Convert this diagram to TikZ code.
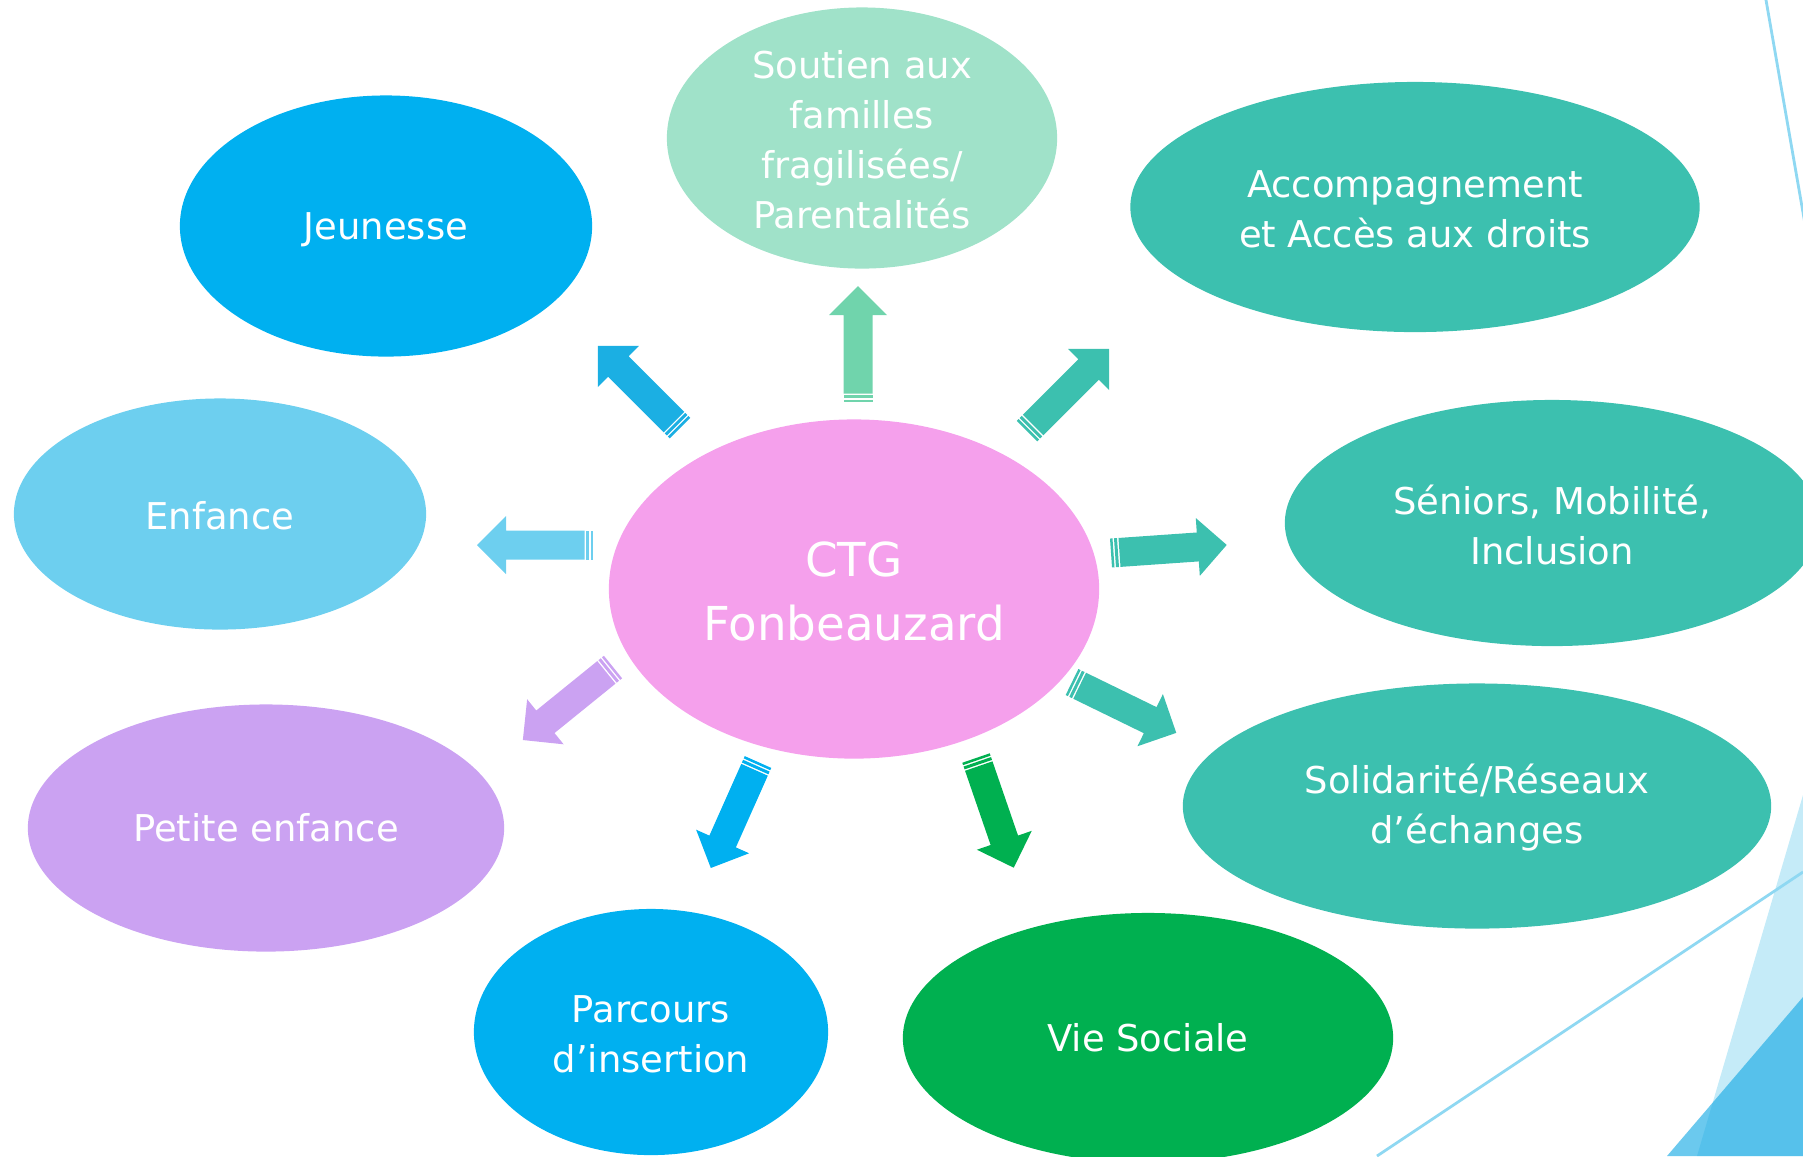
\documentclass[tikz,border=0pt]{standalone}
\usepackage{fontspec}
\setmainfont{DejaVu Sans}
\usepackage{tikz}
\usetikzlibrary{shapes.geometric}

\definecolor{bleu}{HTML}{00B0F0}
\definecolor{bleuFleche}{HTML}{1BAFE3}
\definecolor{vertClair}{HTML}{A0E2C9}
\definecolor{vertFleche}{HTML}{70D4AC}
\definecolor{turquoise}{HTML}{3CC0AF}
\definecolor{bleuClair}{HTML}{6DCFEF}
\definecolor{rose}{HTML}{F5A0EC}
\definecolor{violet}{HTML}{CBA2F2}
\definecolor{vert}{HTML}{00B050}
\definecolor{ciel}{HTML}{C5EBF8}
\definecolor{cielFonce}{RGB}{28,172,229}
\definecolor{trait}{HTML}{8FD8F2}

\tikzset{
  bulle/.style={ellipse, fill=#1, inner sep=0pt},
  texte/.style={text=white, align=center, font=\fontsize{10.5}{14.2}\selectfont},
}

% striped block arrow: colour, tail, angle
\newcommand{\fleche}[3]{%
  \begin{scope}[shift={#2}, rotate=#3, fill=#1]
    \fill (0,-14.5) rectangle (2.5,14.5);
    \fill (4,-14.5) rectangle (7,14.5);
    \fill (8.5,-14.5) -- (87,-14.5) -- (87,-29) -- (116,0) -- (87,29) -- (87,14.5) -- (8.5,14.5) -- cycle;
  \end{scope}}

\begin{document}
\begin{tikzpicture}[x=0.01cm, y=-0.01cm]
  \useasboundingbox (0,0) rectangle (1803,1156);
  \clip (0,0) rectangle (1803,1156);

  % Background
  \fill[ciel] (1803,795) -- (1803,1156) -- (1697,1156) -- cycle;
  \fill[cielFonce, fill opacity=0.65] (1803,997) -- (1803,1156) -- (1667,1156) -- cycle;
  \draw[trait, line width=0.8pt] (1766,0) -- (1805,224);
  \draw[trait, line width=0.8pt] (1377,1156) -- (1803,872);

  % Nodes
  \node[bulle=bleu, minimum width=4.12cm, minimum height=2.61cm] (jeunesse) at (386,226) {};
  \node[bulle=vertClair, minimum width=3.9cm, minimum height=2.61cm] (soutien) at (862,138) {};
  \node[bulle=turquoise, minimum width=5.69cm, minimum height=2.5cm] (acces) at (1415,207) {};
  \node[bulle=bleuClair, minimum width=4.12cm, minimum height=2.31cm] (enfance) at (220,514) {};
  \node[bulle=rose, minimum width=4.9cm, minimum height=3.39cm] (ctg) at (854,589) {};
  \node[bulle=turquoise, minimum width=5.34cm, minimum height=2.46cm] (seniors) at (1552,523) {};
  \node[bulle=turquoise, minimum width=5.88cm, minimum height=2.45cm] (solidarite) at (1477,806) {};
  \node[bulle=violet, minimum width=4.76cm, minimum height=2.47cm] (petite) at (266,828) {};
  \node[bulle=bleu, minimum width=3.54cm, minimum height=2.46cm] (parcours) at (651,1032) {};
  \node[bulle=vert, minimum width=4.9cm, minimum height=2.5cm] (vie) at (1148,1038) {};

  % Texts
  \node[texte] (jeunesseT) at ([yshift=-0.04cm]jeunesse) {Jeunesse};
  \node[texte] (soutienT) at ([yshift=-0.02cm]soutien) {Soutien aux\\familles\\fragilisées/\\Parentalités};
  \node[texte] (accesT) at ([yshift=-0.02cm]acces) {Accompagnement\\et Accès aux droits};
  \node[texte] (enfanceT) at ([yshift=-0.02cm]enfance) {Enfance};
  \node[texte, font=\fontsize{13.3}{18.2}\selectfont] (ctgT) at ([yshift=-0.02cm]ctg) {CTG\\Fonbeauzard};
  \node[texte] (seniorsT) at ([yshift=-0.02cm]seniors) {Séniors, Mobilité,\\Inclusion};
  \node[texte] (solidariteT) at ([yshift=-0.02cm]solidarite) {Solidarité/Réseaux\\d’échanges};
  \node[texte] (petiteT) at (petite) {Petite enfance};
  \node[texte] (parcoursT) at ([yshift=-0.02cm]parcours) {Parcours\\d’insertion};
  \node[texte] (vieT) at (vie) {Vie Sociale};

  % Arrows
  \fleche{bleuFleche}{(680,428)}{135}
  \fleche{vertFleche}{(858,402)}{90}
  \fleche{turquoise}{(1027,431)}{45}
  \fleche{turquoise}{(1111,553)}{4}
  \fleche{turquoise}{(1072,682)}{-26}
  \fleche{vert}{(976,758)}{-71}
  \fleche{bleu}{(758,762)}{-114}
  \fleche{violet}{(613,667)}{219}
  \fleche{bleuClair}{(593,545)}{180}
\end{tikzpicture}
\end{document}
